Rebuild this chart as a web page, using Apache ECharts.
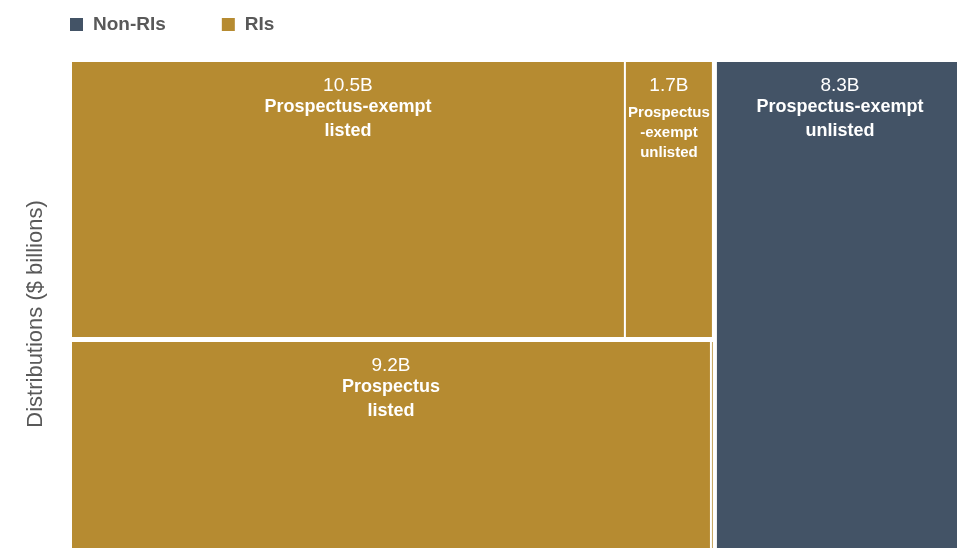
<!DOCTYPE html>
<html>
<head>
<meta charset="utf-8">
<script src="https://cdn.jsdelivr.net/npm/echarts@6/dist/echarts.min.js"></script>
<style>
  html, body { margin: 0; padding: 0; background: #ffffff; overflow: hidden; }
  #chart { width: 963px; height: 550px; }
</style>
</head>
<body>
<div id="chart"></div>
<script>
// Distribution amounts ($ billions) by investor type and offering type
const investorTypes = ['RIs', 'RIs', 'RIs', 'RIs', 'Non-RIs'];
const offeringRows = ['Prospectus-exempt', 'Prospectus-exempt', 'Prospectus', 'Prospectus', 'Prospectus-exempt'];
const values = [10.5, 1.7, 9.2, 0.05, 8.3];
const valueLabels = ['10.5B', '1.7B', '9.2B', '', '8.3B'];
const nameLabels = [
  'Prospectus-exempt\nlisted',
  'Prospectus\n-exempt\nunlisted',
  'Prospectus\nlisted',
  '',
  'Prospectus-exempt\nunlisted'
];
const legendNames = ['Non-RIs', 'RIs'];
const colors = { 'Non-RIs': '#435366', 'RIs': '#B68B31' };
const FONT = 'Liberation Sans, Arial, sans-serif';

// Treemap-style slice layout: one column per investor type (left to right: RIs, Non-RIs),
// rows per offering type inside a column, leaves side by side inside a row.
const columnOrder = ['RIs', 'Non-RIs'];
const total = values.reduce((a, b) => a + b, 0);
const cells = [];
const columnSplits = [];
let xStart = 0;
columnOrder.forEach(function (col, k) {
  const idx = values.map((v, i) => i).filter(i => investorTypes[i] === col);
  const colSum = idx.reduce((s, i) => s + values[i], 0);
  const rows = [];
  idx.forEach(i => { if (rows.indexOf(offeringRows[i]) < 0) rows.push(offeringRows[i]); });
  let yStart = 0;
  rows.forEach(function (row) {
    const rIdx = idx.filter(i => offeringRows[i] === row);
    const rowSum = rIdx.reduce((s, i) => s + values[i], 0);
    const yEnd = yStart + rowSum / colSum;
    let x = xStart;
    rIdx.forEach(function (i) {
      const w = values[i] / rowSum * colSum;
      cells.push({ value: [x, x + w, yStart, yEnd, values[i]], idx: i, col: col });
      x += w;
    });
    yStart = yEnd;
  });
  xStart += colSum;
  if (k < columnOrder.length - 1) columnSplits.push(xStart);
});

function near(a, b) { return Math.abs(a - b) < 1e-9; }

function renderCell(params, api) {
  const x0 = api.value(0), x1 = api.value(1), y0 = api.value(2), y1 = api.value(3);
  const p0 = api.coord([x0, y0]);
  const p1 = api.coord([x1, y1]);
  const left = near(x0, 0) ? 0 : (columnSplits.some(s => near(s, x0)) ? 2.5 : 1);
  const right = near(x1, total) ? 0 : (columnSplits.some(s => near(s, x1)) ? 2.5 : 1);
  const top = near(y0, 0) ? 0 : 2.5;
  const bottom = near(y1, 1) ? 0 : 2.5;
  const rx = p0[0] + left;
  const ry = Math.min(p0[1], p1[1]) + top;
  const rw = Math.max(0.8, p1[0] - p0[0] - left - right);
  const rh = Math.abs(p1[1] - p0[1]) - top - bottom;
  const i = cells.filter(c => c.col === params.seriesName)[params.dataIndex].idx;
  const narrow = rw < 120;
  const children = [{
    type: 'rect',
    shape: { x: rx, y: ry, width: rw, height: rh },
    style: { fill: api.visual('color') }
  }];
  if (valueLabels[i]) {
    children.push({
      type: 'text',
      x: rx + rw / 2,
      y: ry + 23.5,
      style: {
        text: valueLabels[i],
        fontFamily: FONT, fontSize: 19, fontWeight: 'normal',
        fill: '#ffffff', align: 'center', verticalAlign: 'middle'
      }
    });
    const lh = narrow ? 20 : 24.5;
    children.push({
      type: 'text',
      x: rx + rw / 2,
      y: ry + (narrow ? 40.5 : 32.5),
      style: {
        text: nameLabels[i],
        fontFamily: FONT, fontSize: narrow ? 15 : 18, fontWeight: 'bold',
        lineHeight: lh,
        fill: '#ffffff', align: 'center', verticalAlign: 'top'
      }
    });
  }
  return { type: 'group', children: children };
}

const chart = echarts.init(document.getElementById('chart'), null, { renderer: 'canvas' });
chart.setOption({
  animation: false,
  backgroundColor: '#ffffff',
  legend: {
    data: legendNames,
    left: 65,
    top: 10,
    icon: 'rect',
    itemWidth: 13,
    itemHeight: 13,
    itemGap: 56,
    textStyle: {
      fontFamily: FONT, fontSize: 19, fontWeight: 'bold', color: '#595959',
      padding: [0, 0, 0, 5]
    }
  },
  grid: { left: 72, right: 0, top: 62, bottom: 0 },
  xAxis: { type: 'value', min: 0, max: total, show: false },
  yAxis: { type: 'value', min: 0, max: 1, inverse: true, show: false },
  graphic: [{
    type: 'text',
    x: 36,
    y: 314,
    rotation: Math.PI / 2,
    style: {
      text: 'Distributions ($ billions)',
      fontFamily: FONT,
      fontSize: 22,
      fill: '#595959',
      align: 'center',
      verticalAlign: 'middle'
    }
  }],
  series: legendNames.map(function (name) {
    return {
      name: name,
      type: 'custom',
      color: colors[name],
      renderItem: renderCell,
      encode: { x: [0, 1], y: [2, 3] },
      data: cells.filter(c => c.col === name).map(c => c.value)
    };
  })
});
</script>
</body>
</html>
